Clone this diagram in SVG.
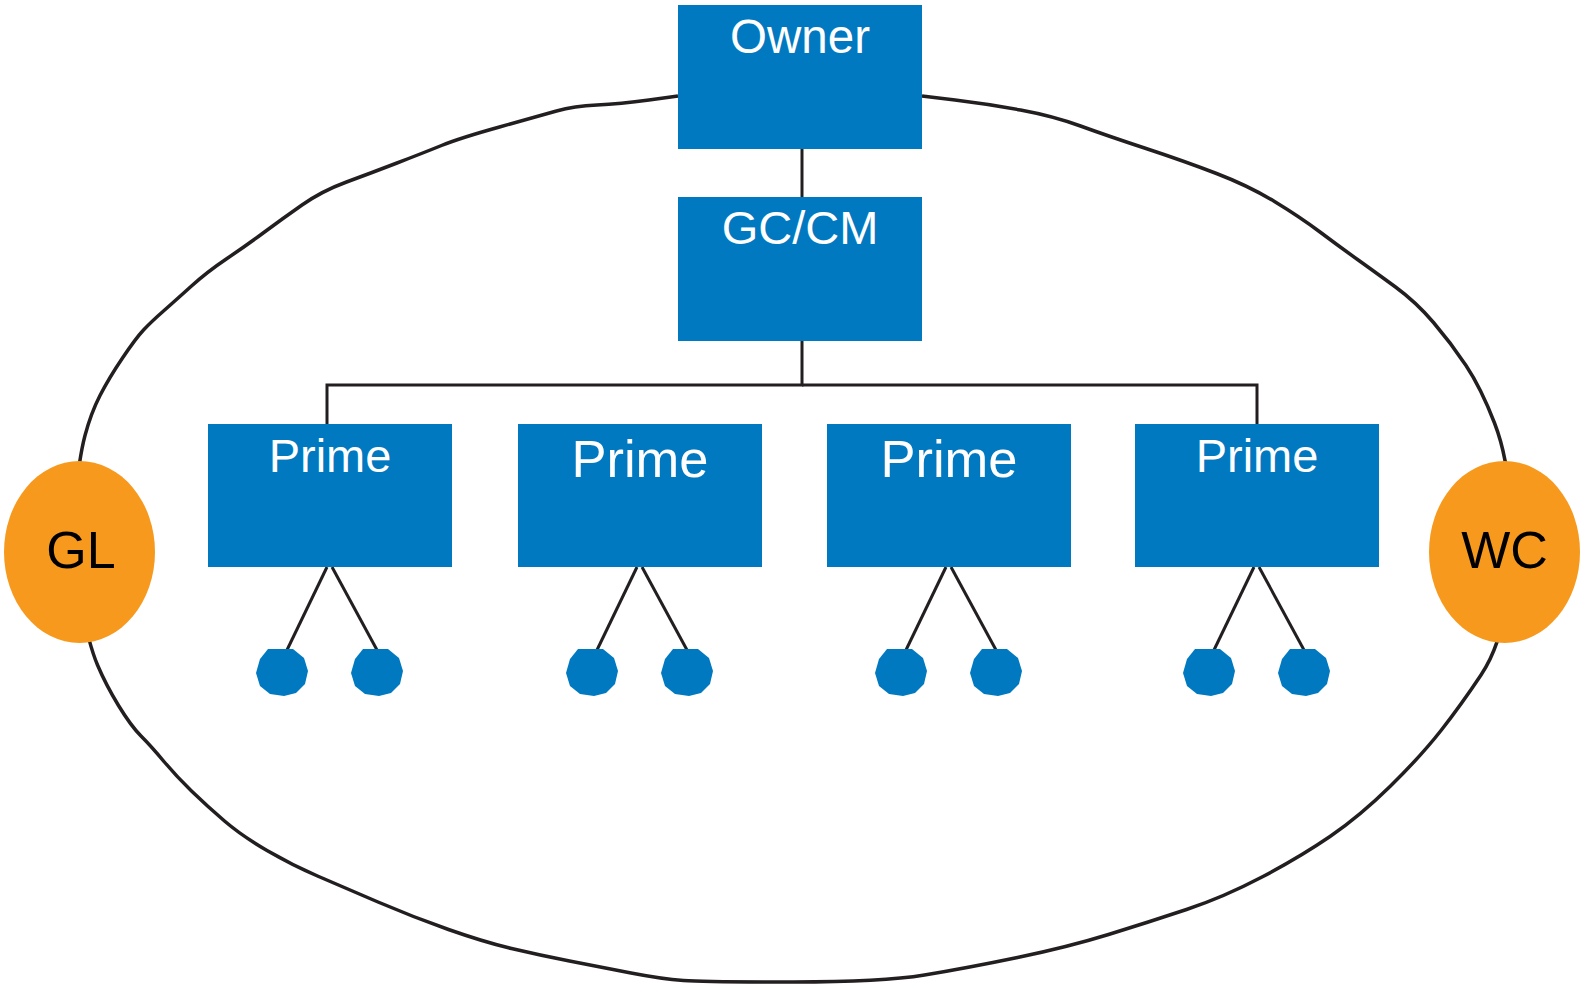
<svg xmlns="http://www.w3.org/2000/svg" width="1580" height="986" viewBox="0 0 1580 986">
<style>
.box{fill:#0079C1}
.t{font-family:"Liberation Sans",Arial,sans-serif;fill:#fff;text-anchor:middle}
.o{fill:#F7991D}
.k{font-family:"Liberation Sans",Arial,sans-serif;fill:#000;text-anchor:middle;font-size:52px}
.ln{stroke:#231F20;stroke-width:3;fill:none}
.ring{stroke:#231F20;stroke-width:3.5;fill:none;stroke-linejoin:round}
</style>
<defs>
<path id="d" fill="#0079C1" d="M-14,-23 L11,-23 L22,-14 L26,-1 L23,12 L14,21 L2,24 L-12,22 L-22,14 L-26,1 L-22,-13 Z"/>
</defs>
<g id="ring">
<path class="ring" d="M678,96 L649,100 Q620,104 597,105 Q574,106 556.5,111 Q539,116 499.5,127 Q460,138 441.5,145.5 Q423,153 397,163 Q371,173 346.5,182 Q322,191 302,205 Q282,219 264.5,232 Q247,245 227,258.5 Q207,272 191.5,286 Q176,300 163.5,311 Q151,322 143.5,330 Q136,338 122.5,358 Q109,378 100,395.5 Q91,413 85,435.5 Q79,458 74.5,505 Q70,552 79.5,598.5 Q89,645 97.5,665 Q106,685 118.5,705.5 Q131,726 141,736 Q151,746 163.5,761 Q176,776 191.5,791 Q207,806 224.5,821 Q242,836 267,850.5 Q292,865 317.5,876 Q343,887 378,902 Q413,917 448.5,929.5 Q484,942 511.5,948.5 Q539,955 569.5,961 Q600,967 631,973 Q662,979 683.5,980.5 Q705,982 793.5,982 Q882,982 924.5,975 Q967,968 1017.5,957.5 Q1068,947 1108.5,934.5 Q1149,922 1186.5,909.5 Q1224,897 1262,877 Q1300,857 1330,836.5 Q1360,816 1390.5,786 Q1421,756 1441,730.5 Q1461,705 1481,675 Q1501,645 1506.5,598.5 Q1512,552 1510,505 Q1508,458 1494.5,423 Q1481,388 1466,365.5 Q1451,343 1433.5,322.5 Q1416,302 1395.5,287 Q1375,272 1357.5,259.5 Q1340,247 1320,232 Q1300,217 1274.5,201.5 Q1249,186 1216.5,173.5 Q1184,161 1146,148.5 Q1108,136 1080.5,126 Q1053,116 1020.5,110 Q988,104 955,100 L922,96"/>
</g>
<g id="connectors">
<line class="ln" x1="802" y1="148" x2="802" y2="197"/>
<polyline class="ln" points="802,340 802,385 327,385 327,424"/>
<polyline class="ln" points="802,385 1257,385 1257,424"/>
<line class="ln" x1="327" y1="567" x2="287" y2="650"/>
<line class="ln" x1="332" y1="567" x2="377" y2="650"/>
<line class="ln" x1="637" y1="567" x2="597" y2="650"/>
<line class="ln" x1="642" y1="567" x2="687" y2="650"/>
<line class="ln" x1="946" y1="567" x2="906" y2="650"/>
<line class="ln" x1="951" y1="567" x2="996" y2="650"/>
<line class="ln" x1="1254" y1="567" x2="1214" y2="650"/>
<line class="ln" x1="1259" y1="567" x2="1304" y2="650"/>
</g>
<g id="owner"><rect class="box" x="678" y="5" width="244" height="144"/><text class="t" x="800" y="53" font-size="47.5">Owner</text></g>
<g id="gccm"><rect class="box" x="678" y="197" width="244" height="144"/><text class="t" x="800" y="244" font-size="47">GC/CM</text></g>
<g id="prime1"><rect class="box" x="208" y="424" width="244" height="143"/><text class="t" x="330" y="472" font-size="47">Prime</text></g>
<g id="prime2"><rect class="box" x="518" y="424" width="244" height="143"/><text class="t" x="640" y="477" font-size="52.5">Prime</text></g>
<g id="prime3"><rect class="box" x="827" y="424" width="244" height="143"/><text class="t" x="949" y="477" font-size="52.5">Prime</text></g>
<g id="prime4"><rect class="box" x="1135" y="424" width="244" height="143"/><text class="t" x="1257" y="472" font-size="47">Prime</text></g>
<g id="subs">
<use href="#d" x="282" y="672"/><use href="#d" x="377" y="672"/>
<use href="#d" x="592" y="672"/><use href="#d" x="687" y="672"/>
<use href="#d" x="901" y="672"/><use href="#d" x="996" y="672"/>
<use href="#d" x="1209" y="672"/><use href="#d" x="1304" y="672"/>
</g>
<g id="gl"><ellipse class="o" cx="79.5" cy="552" rx="75.5" ry="91"/><text class="k" x="81" y="568">GL</text></g>
<g id="wc"><ellipse class="o" cx="1504.5" cy="552" rx="75.5" ry="91"/><text class="k" x="1504.5" y="568" font-size="51">WC</text></g>
</svg>
